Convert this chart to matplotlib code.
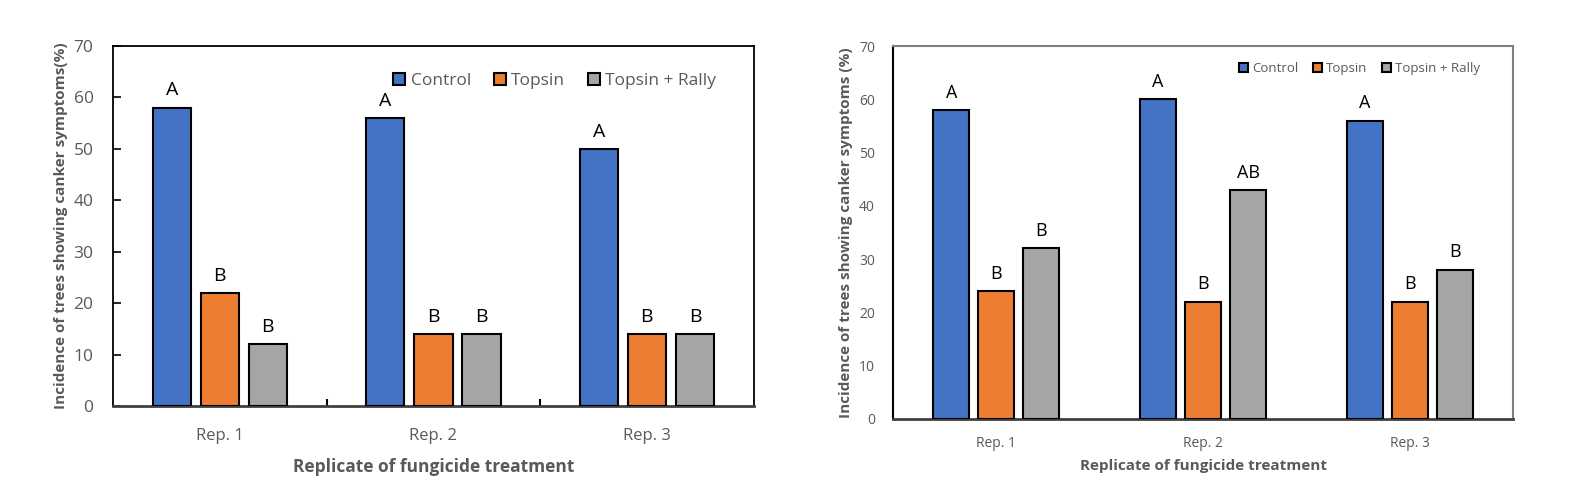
### Canker incidence per fungicide replicate, two trials side by side ###

import matplotlib
matplotlib.use("Agg")
import matplotlib.pyplot as plt
import numpy as np

# data
reps = ["Rep. 1", "Rep. 2", "Rep. 3"]
treatments = ["Control", "Topsin", "Topsin + Rally"]
colors = ["#4472C4", "#ED7D31", "#A5A5A5"]

left_vals = [[58, 56, 50],    # Control
             [22, 14, 14],    # Topsin
             [12, 14, 14]]    # Topsin + Rally
left_letters = [["A", "A", "A"],
                ["B", "B", "B"],
                ["B", "B", "B"]]

right_vals = [[58, 60, 56],
              [24, 22, 22],
              [32, 43, 28]]
right_letters = [["A", "A", "A"],
                 ["B", "B", "B"],
                 ["B", "AB", "B"]]

plt.rcParams['font.family'] = ['Open Sans', 'DejaVu Sans']
grey_txt = "#595959"

fig = plt.figure(figsize=(15.7, 5), dpi=100)

# Draw one panel of grouped bars
def drawPanel(ax, vals, letters, step, width, fs, lfs, ylab, legfs, legpos, colsp):
    x = np.arange(len(reps))
    for j, name in enumerate(treatments):
        ax.bar(x + (j - 1) * step, vals[j], width, color=colors[j],
               edgecolor="black", linewidth=1.5, label=name, zorder=3)
        for k, v in enumerate(vals[j]):   # letter above each bar
            ax.annotate(letters[j][k], (x[k] + (j - 1) * step, v),
                        xytext=(0, 6), textcoords="offset points",
                        ha="center", va="bottom", fontsize=lfs, color="black")
    ax.set_xlim(-0.5, 2.5)
    ax.set_ylim(0, 70)
    ax.set_yticks(range(0, 71, 10))
    ax.set_xticks(x)
    ax.set_xticklabels(reps)
    ax.set_ylabel(ylab, color=grey_txt, fontsize=fs - 1.5, fontweight="bold",
                  labelpad=4)
    ax.set_xlabel("Replicate of fungicide treatment", color=grey_txt,
                  fontsize=fs, fontweight="bold", labelpad=10)
    ax.legend(frameon=False, ncol=3, loc="upper right", bbox_to_anchor=legpos,
              fontsize=legfs, handlelength=0.7, handleheight=0.7,
              handletextpad=0.3, columnspacing=colsp, labelcolor=grey_txt,
              borderaxespad=0)
    return ax

# left panel
ax1 = fig.add_axes([0.072, 0.188, 0.408, 0.72])
drawPanel(ax1, left_vals, left_letters, 0.225, 0.18, 12.5, 14,
          "Incidence of trees showing canker symptoms(%)", 12.5,
          (0.952, 0.945), 1.3)
ax1.tick_params(axis="y", direction="in", length=6, width=1.2,
                labelsize=12.5, labelcolor=grey_txt, pad=14)
ax1.tick_params(axis="x", length=0, labelsize=12, labelcolor=grey_txt, pad=16)
ax1.set_xticks([0.5, 1.5], minor=True)
ax1.tick_params(axis="x", which="minor", direction="in", length=5, width=1.5)
for s in ["top", "left", "right"]:
    ax1.spines[s].set_linewidth(1.3)
    ax1.spines[s].set_color("black")
ax1.spines["bottom"].set_linewidth(2)
ax1.spines["bottom"].set_color("#404040")

# right panel
ax2 = fig.add_axes([0.5688, 0.162, 0.3949, 0.746])
drawPanel(ax2, right_vals, right_letters, 0.218, 0.175, 11.5, 13,
          "Incidence of trees showing canker symptoms (%)", 9.5,
          (0.955, 0.97), 1.1)
ax2.tick_params(axis="y", length=0, labelsize=10, labelcolor=grey_txt, pad=13)
ax2.tick_params(axis="x", length=0, labelsize=10, labelcolor=grey_txt, pad=12)
ax2.xaxis.label.set_fontsize(11)
ax2.xaxis.labelpad = 6
ax2.yaxis.label.set_fontsize(11)
ax2.spines["left"].set_color("black")
ax2.spines["left"].set_linewidth(1.5)
for s in ["top", "right"]:
    ax2.spines[s].set_color("#7f7f7f")
    ax2.spines[s].set_linewidth(1.5)
ax2.spines["bottom"].set_color("#404040")
ax2.spines["bottom"].set_linewidth(2)

fig.savefig("out.png", dpi=100)
